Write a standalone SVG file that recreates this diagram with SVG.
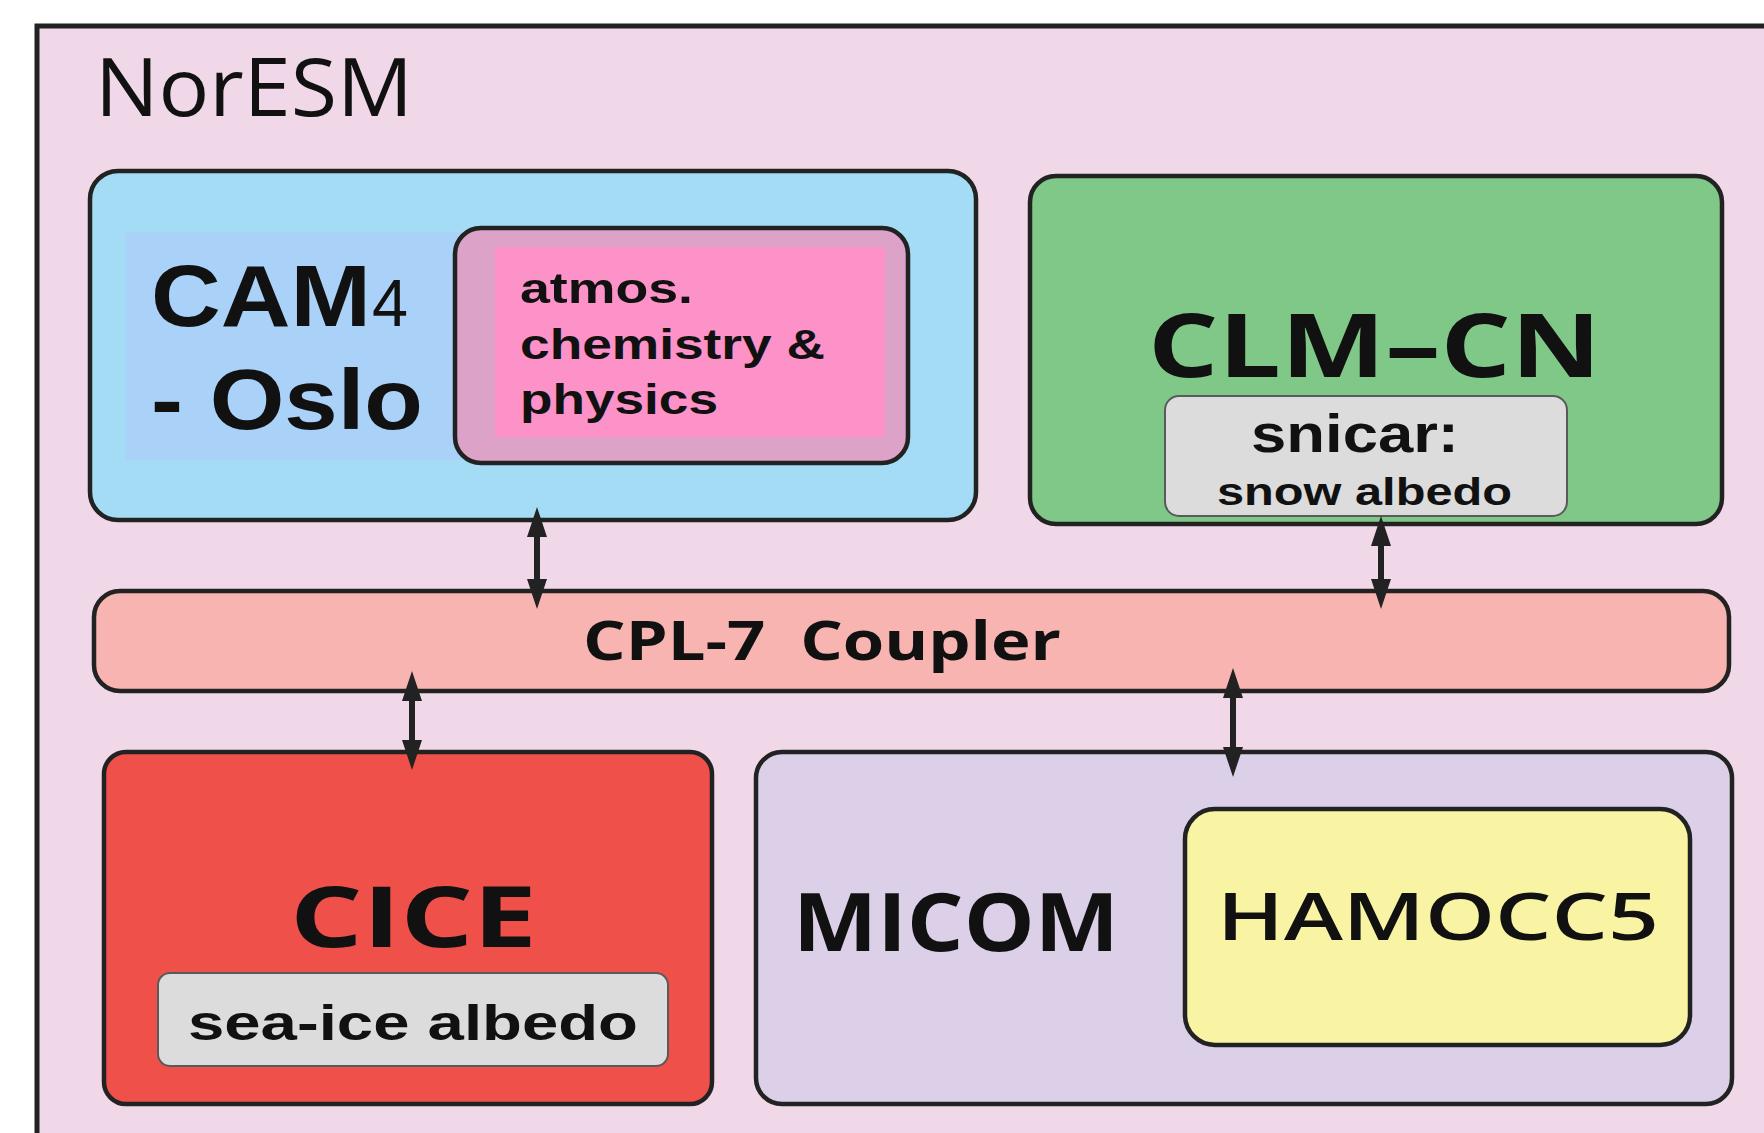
<svg xmlns="http://www.w3.org/2000/svg" width="1764" height="1133" viewBox="0 0 1764 1133">
<style>
.box{stroke:#222;stroke-width:4.5}
.sub{fill:#dcdcdc;stroke:#5a5a5a;stroke-width:2}
.os{font-family:"Open Sans","DejaVu Sans",sans-serif;fill:#111}
.ar{font-family:"Liberation Sans",Arial,sans-serif;font-weight:bold;fill:#111}
.conn{stroke:#222;stroke-width:6;fill:none;marker-start:url(#head);marker-end:url(#head)}
</style>
<defs>
<marker id="head" markerUnits="userSpaceOnUse" markerWidth="30" markerHeight="20" viewBox="0 0 30 20" refX="2" refY="10" orient="auto-start-reverse">
<path d="M0,0 L30,10 L0,20 Z" fill="#222"/>
</marker>
</defs>
<rect width="1764" height="1133" fill="#ffffff"/>
<g id="noresm">
<rect x="37" y="26" width="1800" height="1200" fill="#f0d8e8" stroke="#222" stroke-width="5"/>
<text class="os" x="95" y="116" font-size="80" textLength="318" lengthAdjust="spacingAndGlyphs" fill="#2a2a2a">NorESM</text>
</g>
<g id="cam">
<rect class="box" x="90" y="171" width="886" height="349" rx="28" fill="#a4dcf6"/>
<rect x="125" y="232" width="345" height="228" fill="#aad2f8"/>
<text class="ar" x="151" y="326" font-size="88" textLength="220" lengthAdjust="spacingAndGlyphs">CAM</text>
<text x="372" y="326" font-size="66" font-family="Liberation Sans,Arial,sans-serif" fill="#111" textLength="36" lengthAdjust="spacingAndGlyphs">4</text>
<text class="ar" x="151" y="429" font-size="86" textLength="272" lengthAdjust="spacingAndGlyphs">- Oslo</text>
</g>
<g id="atmos">
<rect class="box" x="455" y="228" width="453" height="235" rx="26" fill="#dca2c8"/>
<rect x="495" y="247" width="390" height="190" fill="#fc92c8"/>
<text class="ar" x="520" y="303" font-size="43" textLength="173" lengthAdjust="spacingAndGlyphs">atmos.</text>
<text class="ar" x="520" y="359" font-size="43" textLength="305" lengthAdjust="spacingAndGlyphs">chemistry &amp;</text>
<text class="ar" x="520" y="414" font-size="43" textLength="198" lengthAdjust="spacingAndGlyphs">physics</text>
</g>
<g id="clm">
<rect class="box" x="1030" y="176" width="692" height="348" rx="26" fill="#80c888"/>
<text class="os" x="1148" y="377" font-size="88" font-weight="bold" textLength="453" lengthAdjust="spacingAndGlyphs">CLM–CN</text>
</g>
<g id="snicar">
<rect class="sub" x="1165" y="396" width="402" height="120" rx="14"/>
<text class="ar" x="1251" y="452" font-size="53" textLength="208" lengthAdjust="spacingAndGlyphs">snicar:</text>
<text class="ar" x="1217" y="505" font-size="39" textLength="295" lengthAdjust="spacingAndGlyphs">snow albedo</text>
</g>
<g id="cpl">
<rect class="box" x="94" y="591" width="1635" height="100" rx="26" fill="#f8b4b0"/>
<text class="os" x="583" y="660" font-size="54" font-weight="bold" xml:space="preserve" textLength="478" lengthAdjust="spacingAndGlyphs">CPL-7  Coupler</text>
</g>
<g id="cice">
<rect class="box" x="104" y="752" width="608" height="352" rx="22" fill="#f0504a"/>
<text class="os" x="290" y="947" font-size="84" font-weight="bold" textLength="247" lengthAdjust="spacingAndGlyphs">CICE</text>
</g>
<g id="seaice">
<rect class="sub" x="158" y="973" width="510" height="93" rx="12"/>
<text class="ar" x="188" y="1040" font-size="50" textLength="450" lengthAdjust="spacingAndGlyphs">sea-ice albedo</text>
</g>
<g id="micom">
<rect class="box" x="756" y="752" width="976" height="352" rx="26" fill="#dcd0e8"/>
<text class="os" x="793" y="951" font-size="80" font-weight="bold" textLength="326" lengthAdjust="spacingAndGlyphs">MICOM</text>
</g>
<g id="hamocc">
<rect class="box" x="1185" y="809" width="505" height="236" rx="30" fill="#f9f4a4"/>
<text class="os" x="1217" y="940" font-size="66" font-weight="600" textLength="442" lengthAdjust="spacingAndGlyphs">HAMOCC5</text>
</g>
<g id="connectors">
<line class="conn" x1="537" y1="535" x2="537" y2="581"/>
<line class="conn" x1="1381" y1="544" x2="1381" y2="581"/>
<line class="conn" x1="412" y1="699" x2="412" y2="742"/>
<line class="conn" x1="1233" y1="696" x2="1233" y2="749"/>
</g>
</svg>
